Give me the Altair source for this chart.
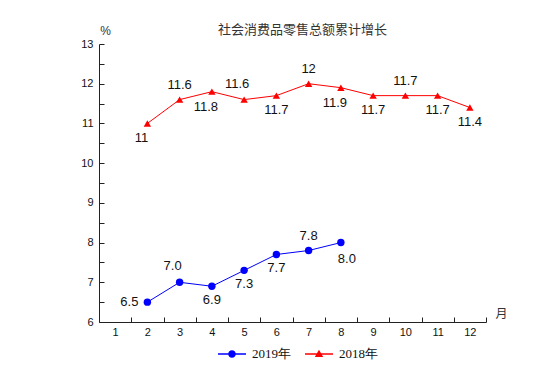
import altair as alt
import pandas as pd

months_2019 = [2, 3, 4, 5, 6, 7, 8]
values_2019 = [6.5, 7.0, 6.9, 7.3, 7.7, 7.8, 8.0]
labels_2019 = ["6.5", "7.0", "6.9", "7.3", "7.7", "7.8", "8.0"]
place_2019 = ["left", "aboveleft", "below", "below", "below", "above", "belowright"]

months_2018 = [2, 3, 4, 5, 6, 7, 8, 9, 10, 11, 12]
values_2018 = [11.0, 11.6, 11.8, 11.6, 11.7, 12.0, 11.9, 11.7, 11.7, 11.7, 11.4]
labels_2018 = ["11", "11.6", "11.8", "11.6", "11.7", "12", "11.9", "11.7", "11.7", "11.7", "11.4"]
place_2018 = ["belowleft", "above", "belowleft", "aboveleft", "below", "above", "belowleft", "below", "above", "below", "below"]

series_names = ["2019年", "2018年"]
series_colors = ["#0000FF", "#FF0000"]
x_ticks = [i / 2 for i in range(1, 26)]
y_ticks = [6 + i / 2 for i in range(0, 15)]

rows = []
for m, v, l, p in zip(months_2019, values_2019, labels_2019, place_2019):
    rows.append({"month": m, "value": v, "label": l, "place": p, "series": series_names[0]})
for m, v, l, p in zip(months_2018, values_2018, labels_2018, place_2018):
    rows.append({"month": m, "value": v, "label": l, "place": p, "series": series_names[1]})
df = pd.DataFrame(rows)

color_scale = alt.Scale(domain=series_names, range=series_colors)
x_enc = alt.X(
    "month:Q",
    scale=alt.Scale(domain=[0.5, 12.5], nice=False, zero=False),
    axis=alt.Axis(
        values=x_ticks,
        tickCount=100,
        labelExpr="datum.value % 1 === 0 ? format(datum.value, 'd') : ''",
        tickOpacity={"condition": {"test": "datum.value % 1 === 0", "value": 0}, "value": 1},
        tickSize={"expr": "-5"},
        labelPadding=9,
        labelOverlap=False,
        labelFlush=False,
        grid=False,
        title="月",
        titleAngle=0,
        titleX=402,
        titleY=-9,
        titleBaseline="middle",
        titleAlign="center",
        titleFont="Noto Sans CJK SC",
        titleFontWeight="normal",
        titleFontSize=12,
        titleColor="#333333",
    ),
)
y_enc = alt.Y(
    "value:Q",
    scale=alt.Scale(domain=[6, 13], nice=False, zero=False),
    axis=alt.Axis(
        values=y_ticks,
        tickCount=100,
        labelExpr="datum.value % 1 === 0 ? format(datum.value, 'd') : ''",
        tickSize={"expr": "-5"},
        labelPadding=11,
        labelOverlap=False,
        labelFlush=False,
        grid=False,
        title="%",
        titleAngle=0,
        titleX=6,
        titleY=-14,
        titleBaseline="middle",
        titleAlign="center",
        titleFont="Liberation Sans",
        titleFontWeight="normal",
        titleFontSize=12,
        titleColor="#333333",
    ),
)

base = alt.Chart(df)

line = base.mark_line(strokeWidth=1).encode(
    x=x_enc, y=y_enc,
    color=alt.Color("series:N", scale=color_scale, legend=None),
    detail="series:N",
)

def point_layer(name, shape):
    return base.transform_filter(alt.datum.series == name).mark_point(
        filled=True, size=55, opacity=1, shape=shape
    ).encode(
        x="month:Q", y="value:Q",
        color=alt.Color("series:N", scale=color_scale, legend=None),
    )

points = alt.layer(point_layer(series_names[0], "circle"), point_layer(series_names[1], "triangle-up"))

def text_layer(dx, dy, cond):
    return base.transform_filter(cond).mark_text(
        font="Liberation Sans", fontSize=13, color="#111111", dx=dx, dy=dy, baseline="middle", align="center"
    ).encode(x="month:Q", y="value:Q", text="label:N")

texts = alt.layer(
    text_layer(-18, 0, "datum.place == 'left'"),
    text_layer(0, -15, "datum.place == 'above'"),
    text_layer(-7, -16, "datum.place == 'aboveleft'"),
    text_layer(0, 14, "datum.place == 'below'"),
    text_layer(-6, 15, "datum.place == 'belowleft'"),
    text_layer(6, 16, "datum.place == 'belowright'"),
)

legend_circle = "M-1,-0.05H1V0.05H-1Z M0.27,0A0.27,0.27 0 1 1 -0.27,0A0.27,0.27 0 1 1 0.27,0Z"
legend_tri = "M-1,-0.05H1V0.05H-1Z M0,-0.3L0.3,0.22L-0.3,0.22Z"

legend_props = dict(
    title=None, orient="none", direction="horizontal", legendX=119, legendY=296,
    symbolSize=784, labelFont="Liberation Serif", labelFontSize=13, labelColor="#111111",
    columnPadding=14, labelOffset=6, symbolOpacity=1, symbolStrokeWidth=0,
)

legend_layer = base.transform_filter("false").mark_point(filled=True, size=784, opacity=1, strokeWidth=0).encode(
    x="month:Q", y="value:Q",
    fill=alt.Fill("series:N", scale=alt.Scale(domain=series_names, range=series_colors),
                  legend=alt.Legend(**legend_props)),
    shape=alt.Shape("series:N", scale=alt.Scale(domain=series_names, range=[legend_circle, legend_tri]),
                    legend=alt.Legend(**legend_props)),
)

chart = alt.layer(line, points, texts, legend_layer).resolve_scale(
    fill="independent", shape="independent"
).resolve_legend(fill="independent", shape="independent").properties(
    width=387, height=278,
    padding={"left": 91, "top": 36, "right": 60, "bottom": 57},
    autosize=alt.AutoSizeParams(type="none"),
    title=alt.TitleParams(
        "社会消费品零售总额累计增长", font="Noto Sans CJK SC", fontSize=13, fontWeight="normal",
        color="#333333", anchor="middle", dx=10, offset=-13,
    ),
).configure_view(stroke=None).configure_axis(
    domainColor="#222222", tickColor="#222222", labelFont="Liberation Sans", labelFontSize=11,
    labelColor="#111111", domainWidth=1, tickWidth=1, labelOverlap=False,
)

chart.save("out.html", embed_options={"renderer": "svg", "actions": False})
